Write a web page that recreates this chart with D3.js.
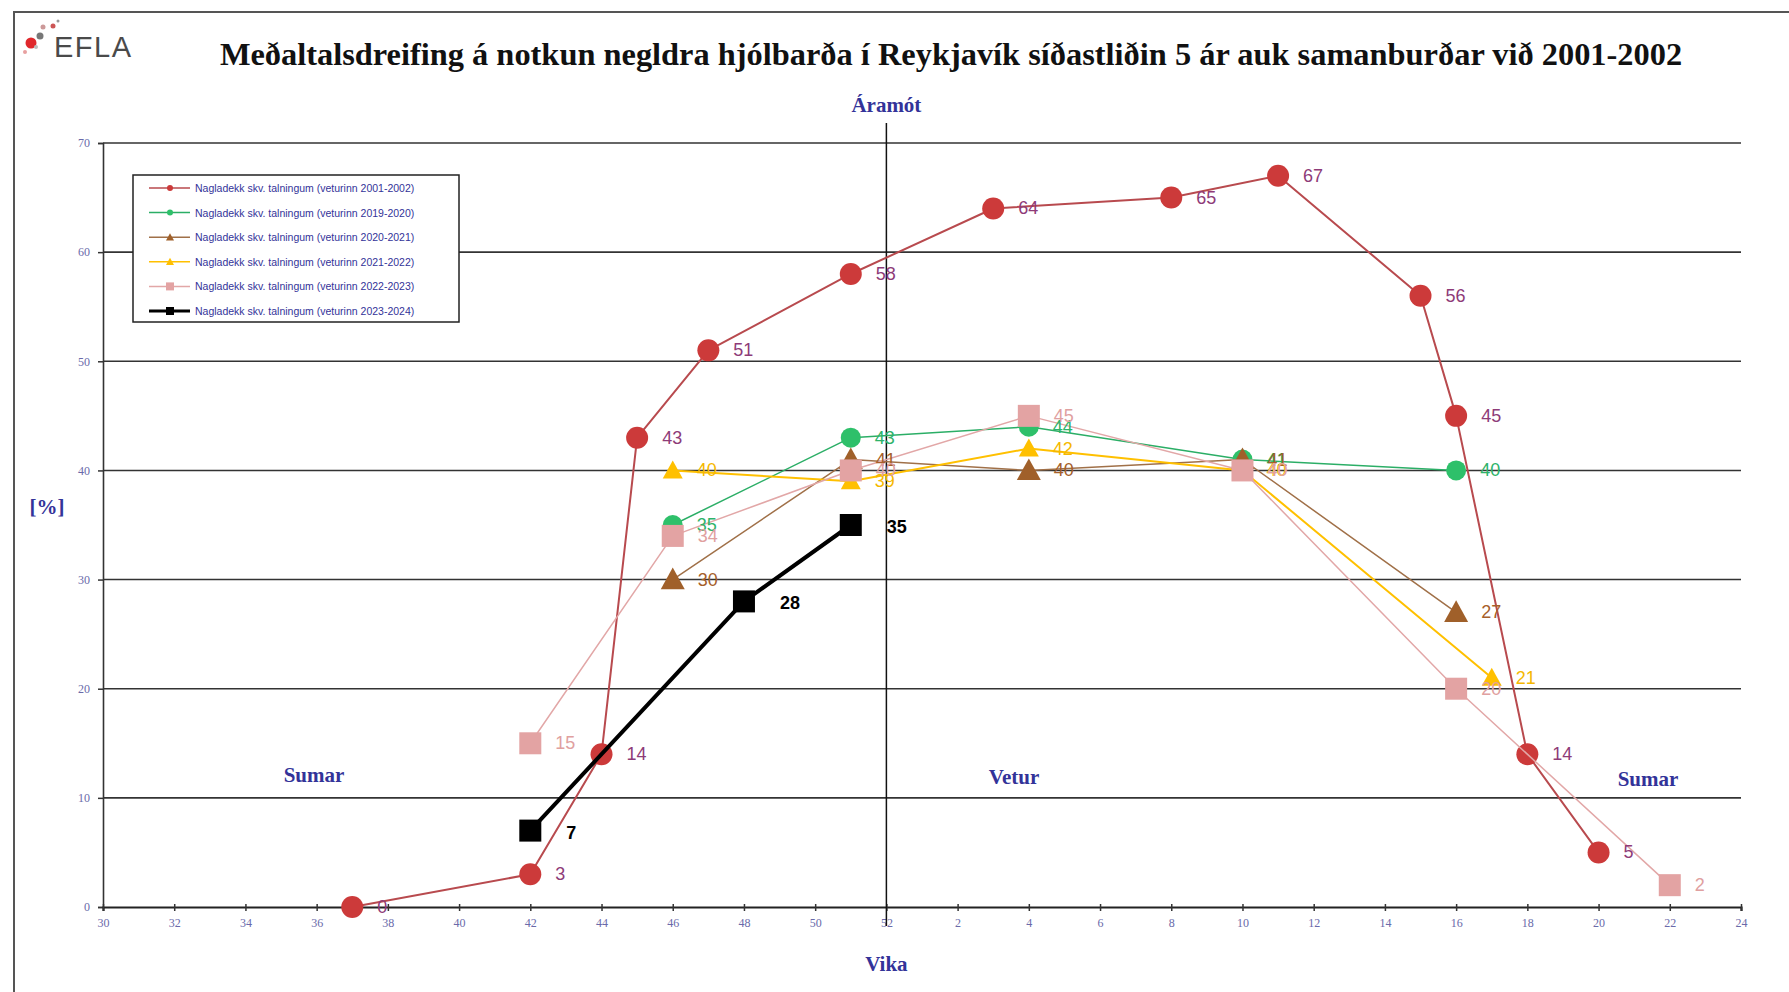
<!DOCTYPE html>
<html>
<head>
<meta charset="utf-8">
<script src="https://cdn.jsdelivr.net/npm/d3@7"></script>
<style>
  body { margin: 0; background: #fff; }
  svg { display: block; }
</style>
</head>
<body>
<div id="vis"></div>
<script>
// week ticks along the x axis (30..52 then 2..24)
var weekTicks = [30, 32, 34, 36, 38, 40, 42, 44, 46, 48, 50, 52, 2, 4, 6, 8, 10, 12, 14, 16, 18, 20, 22, 24];
var yTicks = [0, 10, 20, 30, 40, 50, 60, 70];

var seriesNames = [
  "Nagladekk skv. talningum (veturinn 2001-2002)",
  "Nagladekk skv. talningum (veturinn 2019-2020)",
  "Nagladekk skv. talningum (veturinn 2020-2021)",
  "Nagladekk skv. talningum (veturinn 2021-2022)",
  "Nagladekk skv. talningum (veturinn 2022-2023)",
  "Nagladekk skv. talningum (veturinn 2023-2024)"
];

var weeks2001 = [37, 42, 44, 45, 47, 51, 3, 8, 11, 15, 16, 18, 20];
var vals2001  = [0, 3, 14, 43, 51, 58, 64, 65, 67, 56, 45, 14, 5];

var weeks2019 = [46, 51, 4, 10, 16];
var vals2019  = [35, 43, 44, 41, 40];

var weeks2020 = [46, 51, 4, 10, 16];
var vals2020  = [30, 41, 40, 41, 27];

var weeks2021 = [46, 51, 4, 10, 17];
var vals2021  = [40, 39, 42, 40, 21];

var weeks2022 = [42, 46, 51, 4, 10, 16, 22];
var vals2022  = [15, 34, 40, 45, 40, 20, 2];

var weeks2023 = [42, 48, 51];
var vals2023  = [7, 28, 35];

var W = 1789, H = 992;

var styles = [
  {line: "#b84a4e", fill: "#cc3a3a", label: "#8e3b78", lw: 2, shape: "circle", size: 11, legendSize: 3, bold: false, dx: 25},
  {line: "#2bae66", fill: "#2ec06a", label: "#2eb36a", lw: 1.5, shape: "circle", size: 10, legendSize: 3, bold: false, dx: 24},
  {line: "#a07048", fill: "#a0602a", label: "#a65f2b", lw: 1.5, shape: "triangle", size: 12, legendSize: 4, bold: false, dx: 25},
  {line: "#ffc000", fill: "#ffc000", label: "#f5b800", lw: 2, shape: "triangle", size: 10, legendSize: 4, bold: false, dx: 24},
  {line: "#e2a7a7", fill: "#e3a3a3", label: "#e0a0a0", lw: 1.5, shape: "square", size: 11, legendSize: 4, bold: false, dx: 25},
  {line: "#000000", fill: "#000000", label: "#000000", lw: 4, shape: "square", size: 11, legendSize: 4, bold: true, dx: 36}
];

function weekIndex(w) { return w >= 30 ? w - 30 : w + 22; }

var series = [
  [weeks2001, vals2001], [weeks2019, vals2019], [weeks2020, vals2020],
  [weeks2021, vals2021], [weeks2022, vals2022], [weeks2023, vals2023]
].map(function(s, i){
  return {
    name: seriesNames[i],
    style: styles[i],
    points: s[0].map(function(w, j){ return {w: w, v: s[1][j]}; })
  };
});

var svg = d3.select("#vis").append("svg").attr("width", W).attr("height", H);

var x = d3.scaleLinear().domain([0, 46]).range([103, 1741]);
var y = d3.scaleLinear().domain([0, 70]).range([907, 143]);

var serif = "'Liberation Serif', 'Times New Roman', serif";
var sans = "'Liberation Sans', Arial, sans-serif";
var blue = "#333399";

// outer frame
svg.append("path").attr("d", "M14," + H + " L14,12 L" + W + ",12")
  .attr("fill", "none").attr("stroke", "#555").attr("stroke-width", 2);

// logo
var logo = svg.append("g");
[[31, 43, 5.5, "#e0282c"], [25, 52, 2, "#e8a0a0"], [40, 36, 3.5, "#777"], [43, 27, 2.5, "#c99"],
 [53, 26, 2.5, "#c55"], [58, 21, 1.5, "#999"], [36, 47, 2, "#bbb"]].forEach(function(c){
  logo.append("circle").attr("cx", c[0]).attr("cy", c[1]).attr("r", c[2]).attr("fill", c[3]);
});
logo.append("text").attr("x", 54).attr("y", 57).text("EFLA")
  .attr("font-family", sans).attr("font-size", 29).attr("letter-spacing", 1.5).attr("fill", "#4a4a4a");

// title
var title = svg.append("text").attr("x", 951).attr("y", 65).attr("text-anchor", "middle")
  .attr("font-family", serif).attr("font-weight", "bold").attr("font-size", 29).attr("fill", "#111")
  .text("Meðaltalsdreifing á notkun negldra hjólbarða í Reykjavík síðastliðin 5 ár auk samanburðar við 2001-2002");
var tw = title.node().getComputedTextLength();
title.attr("font-size", 29 * 1463 / tw);

// gridlines
svg.append("g").selectAll("line").data(yTicks.filter(function(d){ return d > 0; })).enter().append("line")
  .attr("x1", x(0)).attr("x2", x(46))
  .attr("y1", function(d){ return y(d); }).attr("y2", function(d){ return y(d); })
  .attr("stroke", "#333").attr("stroke-width", 1.6);

// y axis
var yAxis = svg.append("g").attr("transform", "translate(" + x(0) + ",0)")
  .call(d3.axisLeft(y).tickValues(yTicks).tickSize(5).tickPadding(8));
yAxis.select(".domain").attr("stroke", "#333").attr("stroke-width", 1.6);
yAxis.selectAll(".tick line").attr("stroke", "#333").attr("stroke-width", 1.5);
yAxis.selectAll("text").attr("font-family", serif).attr("font-size", 12).attr("fill", "#6a6aaa");

// x axis
var xAxis = svg.append("g").attr("transform", "translate(0," + y(0) + ")")
  .call(d3.axisBottom(x).tickValues(d3.range(0, 47, 2)).tickSize(4).tickPadding(7)
    .tickFormat(function(d, i){ return weekTicks[i]; }));
xAxis.select(".domain").attr("stroke", "#222").attr("stroke-width", 2.2);
xAxis.selectAll(".tick line").attr("y1", -3).attr("stroke", "#333").attr("stroke-width", 1.5);
xAxis.selectAll("text").attr("font-family", serif).attr("font-size", 12).attr("fill", "#6a6aaa");

// year-change line
svg.append("line").attr("x1", x(22)).attr("x2", x(22)).attr("y1", 123).attr("y2", 926)
  .attr("stroke", "#111").attr("stroke-width", 1.5);

// text annotations
function note(tx, ty, s, size) {
  svg.append("text").attr("x", tx).attr("y", ty).attr("text-anchor", "middle")
    .attr("font-family", serif).attr("font-weight", "bold").attr("font-size", size || 21)
    .attr("fill", blue).text(s);
}
note(x(22), 112, "Áramót");
note(47, 514, "[%]");
note(314, 782, "Sumar");
note(1014, 784, "Vetur");
note(1648, 786, "Sumar");
note(x(22), 971, "Vika");

function marker(g, shape, r) {
  if (shape === "circle") return g.append("circle").attr("r", r);
  if (shape === "square") return g.append("rect").attr("x", -r).attr("y", -r).attr("width", 2 * r).attr("height", 2 * r);
  return g.append("path").attr("d", "M0," + (-r) + " L" + r + "," + (r * 0.8) + " L" + (-r) + "," + (r * 0.8) + " Z");
}

var line = d3.line()
  .x(function(d){ return x(weekIndex(d.w)); })
  .y(function(d){ return y(d.v); });

series.forEach(function(s){
  var st = s.style;
  svg.append("path").datum(s.points).attr("d", line)
    .attr("fill", "none").attr("stroke", st.line).attr("stroke-width", st.lw)
    .attr("stroke-linejoin", "round");
  s.points.forEach(function(p){
    var g = svg.append("g").attr("transform", "translate(" + x(weekIndex(p.w)) + "," + y(p.v) + ")");
    marker(g, st.shape, st.size).attr("fill", st.fill);
  });
});

// data labels on top
series.forEach(function(s){
  var st = s.style;
  svg.append("g").selectAll("text").data(s.points).enter().append("text")
    .attr("x", function(d){ return x(weekIndex(d.w)) + st.dx; })
    .attr("y", function(d){ return y(d.v) + (st.bold ? 8 : 6); })
    .attr("font-family", sans).attr("font-size", 18)
    .attr("font-weight", st.bold ? "bold" : "normal")
    .attr("fill", st.label)
    .text(function(d){ return d.v; });
});

// legend
var lg = svg.append("g");
lg.append("rect").attr("x", 133).attr("y", 175).attr("width", 326).attr("height", 147)
  .attr("fill", "#fff").attr("stroke", "#222").attr("stroke-width", 1.5);
series.forEach(function(s, i){
  var st = s.style;
  var ly = 188 + i * 24.6;
  lg.append("line").attr("x1", 149).attr("x2", 190).attr("y1", ly).attr("y2", ly)
    .attr("stroke", st.line).attr("stroke-width", i === 5 ? 3 : 1.5);
  var g = lg.append("g").attr("transform", "translate(170," + ly + ")");
  marker(g, st.shape, st.legendSize).attr("fill", st.fill);
  lg.append("text").attr("x", 195).attr("y", ly + 4).text(s.name)
    .attr("font-family", sans).attr("font-size", 10.5).attr("fill", blue);
});
</script>
</body>
</html>
